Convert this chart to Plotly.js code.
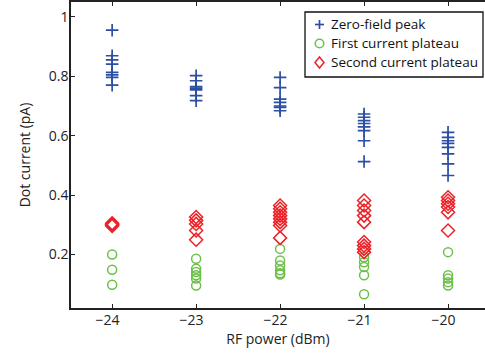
<!DOCTYPE html>
<html><head><meta charset="utf-8">
<script src="https://cdn.plot.ly/plotly-3.0.1.min.js"></script>
<style>html,body{margin:0;padding:0;background:#fff}#c{width:485px;height:361px}</style>
</head><body><div id="c"></div>
<script>
// RF power (dBm) for each group
const peakX = [-24,-24,-24,-24,-24,-24,-24,-24, -23,-23,-23,-23,-23,-23,-23, -22,-22,-22,-22,-22,-22,-22, -21,-21,-21,-21,-21,-21,-21,-21, -20,-20,-20,-20,-20,-20,-20,-20];
const peakY = [0.955,0.869,0.855,0.841,0.813,0.805,0.796,0.770, 0.802,0.785,0.765,0.760,0.754,0.735,0.718, 0.796,0.762,0.723,0.712,0.700,0.695,0.684, 0.673,0.662,0.651,0.641,0.630,0.617,0.583,0.513, 0.611,0.594,0.583,0.574,0.561,0.539,0.505,0.466];
const firstX = [-24,-24,-24, -23,-23,-23,-23,-23,-23, -22,-22,-22,-22,-22,-22, -21,-21,-21,-21,-21, -20,-20,-20,-20,-20];
const firstY = [0.200,0.149,0.098, 0.186,0.152,0.141,0.130,0.119,0.096, 0.219,0.180,0.163,0.147,0.137,0.133, 0.191,0.174,0.158,0.130,0.066, 0.208,0.130,0.119,0.107,0.096];
const secondX = [-24,-24,-24,-24, -23,-23,-23,-23,-23, -22,-22,-22,-22,-22,-22,-22,-22, -21,-21,-21,-21,-21,-21,-21,-21,-21, -20,-20,-20,-20,-20,-20];
const secondY = [0.305,0.300,0.296,0.302, 0.326,0.315,0.303,0.281,0.250, 0.365,0.354,0.342,0.331,0.320,0.309,0.298,0.256, 0.382,0.365,0.348,0.331,0.309,0.242,0.230,0.219,0.208, 0.393,0.382,0.371,0.360,0.342,0.281];
const seriesNames = ['Zero-field peak','First current plateau','Second current plateau'];
const xTicks = [-24,-23,-22,-21,-20];
const xTickText = ['\u221224','\u221223','\u221222','\u221221','\u221220'];
const yTicks = [0.2,0.4,0.6,0.8,1];
const yTickText = ['0.2','0.4','0.6','0.8','1'];

const font = 'Open Sans, Lato, sans-serif';
const colors = ['#2b4fa3','#6cc04a','#ec2228'];

// plot area geometry in pixels (for custom legend placement)
const M = {l:71, r:0, t:2, b:53}, W = 485, H = 361;
const PW = W - M.l - M.r, PH = H - M.t - M.b;
const px = x => (x - M.l) / PW;
const py = y => (H - M.b - y) / PH;

const traces = [
  {x: peakX, y: peakY, type:'scatter', mode:'markers', name:seriesNames[0],
   marker:{symbol:'cross-thin-open', size:9, line:{color:colors[0], width:1.7}, color:colors[0]}},
  {x: firstX, y: firstY, type:'scatter', mode:'markers', name:seriesNames[1],
   marker:{symbol:'circle-open', size:9, line:{color:colors[1], width:1.5}, color:colors[1]}},
  {x: secondX, y: secondY, type:'scatter', mode:'markers', name:seriesNames[2],
   marker:{symbol:'diamond-open', size:10, line:{color:colors[2], width:1.5}, color:colors[2]}}
];

// custom legend (box, symbols, text)
const lgX0 = 305, lgX1 = 483, lgY0 = 12, lgY1 = 77;
const symX = 319.5, txtX = 330, rowY = [24.5, 43.5, 62.5];
const shapes = [
  {type:'rect', xref:'paper', yref:'paper', x0:px(lgX0), x1:px(lgX1), y0:py(lgY1), y1:py(lgY0),
   line:{color:'#111', width:1.3}, fillcolor:'#fff', layer:'above'},
  {type:'line', xref:'paper', yref:'paper', x0:px(symX-4.5), x1:px(symX+4.5), y0:py(rowY[0]), y1:py(rowY[0]), line:{color:colors[0], width:1.7}, layer:'above'},
  {type:'line', xref:'paper', yref:'paper', x0:px(symX), x1:px(symX), y0:py(rowY[0]-4.5), y1:py(rowY[0]+4.5), line:{color:colors[0], width:1.7}, layer:'above'},
  {type:'circle', xref:'paper', yref:'paper', x0:px(symX-4.3), x1:px(symX+4.3), y0:py(rowY[1]+4.3), y1:py(rowY[1]-4.3), line:{color:colors[1], width:1.5}, layer:'above'},
  {type:'path', xref:'paper', yref:'paper',
   path:`M ${px(symX)} ${py(rowY[2]-5.5)} L ${px(symX+4.5)} ${py(rowY[2])} L ${px(symX)} ${py(rowY[2]+5.5)} L ${px(symX-4.5)} ${py(rowY[2])} Z`,
   line:{color:colors[2], width:1.5}, layer:'above'}
];
const annotations = seriesNames.map((n,i) => ({
  text:n, xref:'paper', yref:'paper', x:px(txtX), y:py(rowY[i]), xanchor:'left', yanchor:'middle',
  showarrow:false, borderpad:0, font:{family:font, size:13.5, color:'#111'}
}));

const layout = {
  width:W, height:H,
  margin:M,
  paper_bgcolor:'#fff', plot_bgcolor:'#fff',
  font:{family:font, size:14, color:'#222'},
  showlegend:false,
  shapes:shapes, annotations:annotations,
  xaxis:{range:[-24.49,-19.56], tickvals:xTicks, ticktext:xTickText.map(t => t + '\u2002\u2009'), ticks:'inside', ticklen:4,
    tickcolor:'#222', showline:true, linecolor:'#222', linewidth:1.8, mirror:'ticks', showgrid:false, zeroline:false,
    ticklabelstandoff:-2,
    title:{text:'RF power (dBm)', font:{family:font, size:14}, standoff:6}, tickfont:{family:font, size:14}},
  yaxis:{range:[0.02,1.05], tickvals:yTicks, ticktext:yTickText, ticks:'inside', ticklen:4,
    tickcolor:'#222', showline:true, linecolor:'#222', linewidth:1.8, mirror:false, showgrid:false, zeroline:false,
    ticklabelstandoff:-2,
    title:{text:'Dot current (pA)', font:{family:font, size:14}, standoff:15}, tickfont:{family:font, size:14}}
};
Plotly.newPlot('c', traces, layout, {displayModeBar:false, staticPlot:true});
</script></body></html>
